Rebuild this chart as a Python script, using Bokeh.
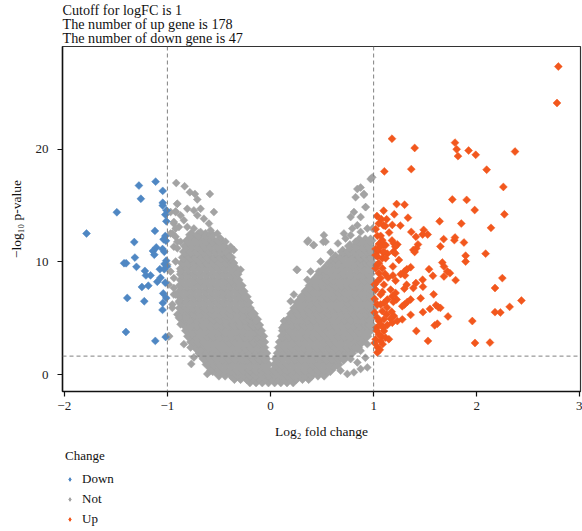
import numpy as np
from bokeh.plotting import figure
from bokeh.layouts import column
from bokeh.models import Span, Legend, LegendItem, FixedTicker
from bokeh.embed import file_html
from bokeh.resources import INLINE

# ---------------- data ----------------
logfc_cutoff = 1
p_cutoff_line = 1.64
up_count = 178
down_count = 47

x_ticks = [-2, -1, 0, 1, 2, 3]
x_tick_labels = ["\u22122", "\u22121", "0", "1", "2", "3"]
y_ticks = [0, 10, 20]
legend_labels = ["Down", "Not", "Up"]

down_x = [-1.276, -1.114, -1.045, -1.257, -1.045, -1.045, -1.008, -1.02, -1.49, -1.784,
          -1.121, -1.037, -1.014, -1.321, -1.108, -1.047, -1.03, -1.14, -1.315, -1.127,
          -1.011, -1.42, -1.40, -1.3, -1.027, -1.073, -1.03, -1.218, -1.208, -1.163,
          -1.066, -1.098, -1.02, -1.247, -1.185, -1.011, -1.389, -1.224, -1.044, -1.047,
          -1.402, -1.117, -1.017, -1.01, -1.02, -1.005, -1.04]
down_y = [16.77, 17.12, 16.3, 15.6, 15.24, 15.0, 14.57, 14.19, 14.4, 12.52,
          12.75, 12.0, 11.87, 11.76, 11.28, 11.14, 10.9, 10.97, 10.38, 10.64,
          10.11, 9.88, 9.88, 9.56, 9.82, 9.35, 9.35, 9.2, 8.8, 8.8,
          8.59, 8.24, 8.15, 7.77, 7.89, 6.8, 6.8, 6.51, 6.36, 5.74,
          3.78, 2.99, 3.34, 13.6, 12.3, 9.6, 7.2]

up_x = [2.791, 2.778, 1.178, 1.789, 1.805, 1.818, 1.398, 1.921, 1.99, 2.371,
        1.365, 1.104, 2.096, 2.258, 1.763, 1.902, 1.98, 2.268, 1.223, 1.3,
        1.097, 1.2, 1.333, 1.032, 1.075, 1.126, 1.094, 1.113, 1.181, 1.259,
        1.64, 1.85, 2.138, 1.365, 1.485, 1.475, 1.524, 1.41, 1.036, 1.068,
        1.679, 1.789, 1.783, 1.876, 1.178, 1.197, 1.23, 1.21, 1.051, 1.1,
        1.43, 1.414, 1.385, 1.398, 1.647, 1.019, 1.042, 1.094, 1.133, 1.191,
        1.21, 2.086, 1.892, 1.892, 1.245, 1.084, 1.051, 1.666, 1.682, 1.359,
        1.323, 1.298, 1.537, 1.187, 1.084, 1.715, 1.74, 1.682, 1.575, 1.262,
        1.304, 1.187, 1.051, 1.068, 1.213, 1.475, 1.795, 2.248, 1.41, 1.385,
        1.298, 1.32, 1.478, 2.177, 1.165, 1.213, 1.181, 1.084, 1.582, 1.456,
        1.359, 1.327, 1.3, 1.278, 1.223, 1.191, 1.133, 1.1, 1.068, 1.036,
        2.433, 2.319, 1.605, 1.628, 1.647, 1.546, 1.478, 1.359, 2.177, 2.229,
        1.175, 1.126, 1.197, 1.165, 1.278, 1.23, 1.721, 1.036, 1.051, 1.068,
        1.029, 1.133, 1.181, 1.094, 1.957, 1.618, 1.592, 1.414, 1.051, 1.075,
        1.019, 1.116, 1.148, 1.527, 1.087, 1.01, 1.983, 2.128, 1.036,
        1.084, 1.116, 1.068, 1.019, 1.1, 1.036, 1.116, 1.03, 1.019, 1.11,
        1.036, 1.1, 1.019, 1.068, 1.13, 1.01, 1.084, 1.01, 1.1, 1.03,
        1.1, 1.04, 1.068, 1.06, 1.02, 1.05, 1.15, 1.01, 1.14]
up_y = [27.33, 24.1, 20.93, 20.58, 19.99, 19.38, 20.11, 19.88, 19.5, 19.79,
        18.23, 18.03, 18.18, 16.65, 15.54, 15.5, 14.6, 14.22, 15.13, 15.07,
        14.54, 14.22, 13.92, 14.07, 13.78, 13.78, 13.25, 13.19, 13.28, 13.22,
        13.6, 13.4, 13.02, 12.66, 12.84, 12.43, 12.43, 12.23, 12.31, 12.31,
        12.02, 12.16, 11.93, 11.72, 11.9, 11.63, 11.55, 11.35, 11.58, 11.55,
        11.55, 11.2, 11.06, 10.88, 11.37, 11.14, 10.97, 10.82, 10.73, 10.9,
        10.76, 10.73, 10.55, 10.03, 10.17, 10.32, 9.88, 9.94, 9.59, 9.53,
        9.35, 9.15, 9.35, 9.59, 9.44, 9.15, 9.0, 8.71, 8.77, 8.91,
        8.8, 8.8, 9.0, 8.56, 8.33, 8.41, 8.38, 8.56, 8.12, 7.68,
        7.62, 7.97, 7.8, 7.68, 7.54, 7.24, 6.95, 7.33, 7.12, 6.77,
        6.66, 6.45, 6.22, 6.07, 6.66, 6.45, 6.66, 6.36, 6.22, 6.22,
        6.57, 6.01, 6.16, 5.98, 5.92, 5.83, 5.54, 5.3, 5.54, 5.51,
        5.57, 5.34, 5.19, 4.95, 4.9, 4.75, 5.16, 5.04, 4.75, 4.46,
        4.16, 4.4, 4.6, 4.16, 4.75, 4.51, 4.37, 3.87, 3.58, 3.37,
        3.14, 3.28, 3.14, 2.99, 2.7, 2.81, 2.81, 2.84, 1.96,
        11.93, 11.49, 11.35, 10.6, 10.9, 10.47, 10.32, 9.7, 9.44, 8.95,
        8.27, 7.98, 7.54, 7.1, 5.95, 6.7, 5.63, 5.5, 4.9, 3.9,
        3.87, 2.4, 2.99, 2.2, 12.9, 13.4, 12.6, 8.0, 8.6]

# dense core of the "Not" cloud, read row by row: (y, x values)
not_core_rows = [
    (-0.6, [-0.2, -0.14, -0.08, -0.02, 0.04, 0.1, 0.16, 0.22]),
    (-0.3, [-0.35, -0.29, -0.23, -0.17, -0.11, -0.05, 0.01, 0.07, 0.13, 0.19, 0.25, 0.31, 0.37]),
    (0.0, [-0.5, -0.44, -0.38, -0.32, -0.26, -0.2, -0.14, -0.08, -0.02, 0.04, 0.1, 0.16, 0.22,
           0.28, 0.34, 0.4, 0.46, 0.52]),
    (0.4, [-0.56, -0.5, -0.44, -0.38, -0.32, -0.26, -0.2, -0.14, -0.08, -0.03,
           0.04, 0.1, 0.16, 0.22, 0.28, 0.34, 0.4, 0.46, 0.52, 0.58]),
    (0.9, [-0.61, -0.55, -0.49, -0.43, -0.37, -0.31, -0.25, -0.19, -0.13, -0.07, -0.03,
           0.05, 0.11, 0.17, 0.23, 0.29, 0.35, 0.41, 0.47, 0.53, 0.59, 0.65]),
    (1.4, [-0.64, -0.58, -0.52, -0.46, -0.4, -0.34, -0.28, -0.22, -0.16, -0.1, -0.05,
           0.06, 0.12, 0.18, 0.24, 0.3, 0.36, 0.42, 0.48, 0.54, 0.6, 0.66, 0.71]),
    (1.9, [-0.68, -0.62, -0.56, -0.5, -0.44, -0.38, -0.32, -0.26, -0.2, -0.14, -0.08, -0.05,
           0.08, 0.14, 0.2, 0.26, 0.32, 0.38, 0.44, 0.5, 0.56, 0.62, 0.68, 0.74, 0.78]),
    (2.4, [-0.72, -0.66, -0.6, -0.54, -0.48, -0.42, -0.36, -0.3, -0.24, -0.18, -0.12, -0.07,
           0.09, 0.15, 0.21, 0.27, 0.33, 0.39, 0.45, 0.51, 0.57, 0.63, 0.69, 0.75, 0.81, 0.84]),
    (2.9, [-0.76, -0.7, -0.64, -0.58, -0.52, -0.46, -0.4, -0.34, -0.28, -0.22, -0.16, -0.1, -0.07,
           0.1, 0.16, 0.22, 0.28, 0.34, 0.4, 0.46, 0.52, 0.58, 0.64, 0.7, 0.76, 0.82, 0.88]),
    (3.4, [-0.79, -0.73, -0.67, -0.61, -0.55, -0.49, -0.43, -0.37, -0.31, -0.25, -0.19, -0.13, -0.08,
           0.12, 0.18, 0.24, 0.3, 0.36, 0.42, 0.48, 0.54, 0.6, 0.66, 0.72, 0.78, 0.84, 0.9, 0.93]),
    (3.9, [-0.81, -0.75, -0.69, -0.63, -0.57, -0.51, -0.45, -0.39, -0.33, -0.27, -0.21, -0.15, -0.1,
           0.13, 0.19, 0.25, 0.31, 0.37, 0.43, 0.49, 0.55, 0.61, 0.67, 0.73, 0.79, 0.85, 0.91, 0.96]),
    (4.4, [-0.83, -0.77, -0.71, -0.65, -0.59, -0.53, -0.47, -0.41, -0.35, -0.29, -0.23, -0.17, -0.12,
           0.15, 0.21, 0.27, 0.33, 0.39, 0.45, 0.51, 0.57, 0.63, 0.69, 0.75, 0.81, 0.87, 0.93, 0.97]),
    (4.9, [-0.85, -0.79, -0.73, -0.67, -0.61, -0.55, -0.49, -0.43, -0.37, -0.31, -0.25, -0.19, -0.14,
           0.18, 0.24, 0.3, 0.36, 0.42, 0.48, 0.54, 0.6, 0.66, 0.72, 0.78, 0.84, 0.9, 0.96]),
    (5.4, [-0.86, -0.8, -0.74, -0.68, -0.62, -0.56, -0.5, -0.44, -0.38, -0.32, -0.26, -0.2, -0.17,
           0.21, 0.27, 0.33, 0.39, 0.45, 0.51, 0.57, 0.63, 0.69, 0.75, 0.81, 0.87, 0.93, 0.98]),
    (5.9, [-0.87, -0.81, -0.75, -0.69, -0.63, -0.57, -0.51, -0.45, -0.39, -0.33, -0.27, -0.21,
           0.24, 0.3, 0.36, 0.42, 0.48, 0.54, 0.6, 0.66, 0.72, 0.78, 0.84, 0.9, 0.96, 0.99]),
    (6.4, [-0.87, -0.81, -0.75, -0.69, -0.63, -0.57, -0.51, -0.45, -0.39, -0.33, -0.27, -0.22,
           0.27, 0.33, 0.39, 0.45, 0.51, 0.57, 0.63, 0.69, 0.75, 0.81, 0.87, 0.93, 0.98]),
    (6.9, [-0.87, -0.81, -0.75, -0.69, -0.63, -0.57, -0.51, -0.45, -0.39, -0.33, -0.28, -0.24,
           0.31, 0.37, 0.43, 0.49, 0.55, 0.61, 0.67, 0.73, 0.79, 0.85, 0.91, 0.97]),
    (7.4, [-0.87, -0.81, -0.75, -0.69, -0.63, -0.57, -0.51, -0.45, -0.39, -0.33, -0.27,
           0.35, 0.41, 0.47, 0.53, 0.59, 0.65, 0.71, 0.77, 0.83, 0.89, 0.95, 0.99]),
    (7.9, [-0.87, -0.81, -0.75, -0.69, -0.63, -0.57, -0.51, -0.45, -0.39, -0.33, -0.29,
           0.39, 0.45, 0.51, 0.57, 0.63, 0.69, 0.75, 0.81, 0.87, 0.93, 0.98]),
    (8.4, [-0.86, -0.8, -0.74, -0.68, -0.62, -0.56, -0.5, -0.44, -0.38, -0.32,
           0.43, 0.49, 0.55, 0.61, 0.67, 0.73, 0.79, 0.85, 0.91, 0.97]),
    (8.9, [-0.86, -0.8, -0.74, -0.68, -0.62, -0.56, -0.5, -0.44, -0.38, -0.33,
           0.48, 0.54, 0.6, 0.66, 0.72, 0.78, 0.84, 0.9, 0.96]),
    (9.4, [-0.86, -0.8, -0.74, -0.68, -0.62, -0.56, -0.5, -0.44, -0.38, -0.34,
           0.53, 0.59, 0.65, 0.71, 0.77, 0.83, 0.89, 0.95, 0.98]),
    (9.9, [-0.85, -0.79, -0.73, -0.67, -0.61, -0.55, -0.49, -0.43, -0.37,
           0.58, 0.64, 0.7, 0.76, 0.82, 0.88, 0.94, 0.98]),
    (10.4, [-0.84, -0.78, -0.72, -0.66, -0.6, -0.54, -0.48, -0.42, -0.39,
            0.63, 0.69, 0.75, 0.81, 0.87, 0.93, 0.98]),
    (10.9, [-0.83, -0.77, -0.71, -0.65, -0.59, -0.53, -0.47, -0.42,
            0.7, 0.76, 0.82, 0.88, 0.94, 0.98]),
    (11.4, [-0.82, -0.76, -0.7, -0.64, -0.58, -0.52, -0.46, 0.77, 0.83, 0.89, 0.95]),
    (11.9, [-0.8, -0.74, -0.68, -0.62, -0.56, -0.5, 0.86, 0.92, 0.97]),
    (12.4, [-0.77, -0.7, -0.63, -0.57]),
]

# scattered "Not" points around the core
not_fringe_x = [-0.914, -0.833, -0.782, -0.733, -0.71, -0.588, -0.904, -0.969, -0.92, -0.807,
                -0.743, -0.678, -0.549, -0.872, -0.84, -0.71, -0.646, -0.597, -0.937, -0.888,
                -0.807, -0.743, -0.678, -0.581, -0.516, -0.484, -0.436, -0.969, -0.92, -0.872,
                -0.937, -0.387, -0.355, -0.403, -0.29, -0.322, -1.0, -0.969, -0.937, -0.985,
                -0.937, -0.888, -0.952, -0.904, -0.84, -0.872, -0.775, -0.759, -0.84, -0.775,
                -0.743, -0.678, -0.768, -0.581, -0.613, -0.985,
                -0.904, -0.92, -0.937, -0.92, -0.952, -0.904, -0.904, -0.92, -0.872, -0.937,
                -0.92, -0.952, -0.888, -0.985,
                0.366, 0.415, 0.518, 0.512, 0.253, 0.583, 0.654, 0.728, 0.777, 0.825,
                0.842, 0.906, 0.971, 0.874, 0.922, 0.777, 0.842, 0.712, 0.939, 0.99,
                0.793, 0.874, 0.486, 0.469, 0.389, 0.357, 0.227, 0.195, 0.13, 0.114,
                0.615, 0.68, 0.745, 0.809, 0.874, 0.939, 0.842,
                0.987, 0.874, 0.906, 0.825, 0.809, 0.922, 0.534, 0.357, 0.421, 0.26,
                0.809, 0.874, 0.939, 0.777, 0.92]
not_fringe_y = [17.0, 16.71, 16.18, 16.03, 15.54, 16.03, 15.15, 14.42, 14.48, 14.71,
                14.57, 14.71, 14.42, 14.13, 13.69, 14.13, 13.83, 13.4, 13.4, 13.1,
                13.1, 12.96, 12.66, 12.81, 12.52, 12.08, 11.78, 12.52, 12.23, 11.78,
                11.35, 11.35, 11.06, 10.47, 9.3, 9.0, 9.74, 9.15, 8.56, 7.98,
                7.1, 6.51, 5.92, 5.34, 5.04, 4.46, 4.75, 3.58, 2.7, 2.4,
                1.52, 2.11, 0.94, 0.35, 0.06, 3.43,
                15.15, 14.42, 13.54, 12.96, 12.52, 11.78, 11.2, 10.03, 9.15, 7.68,
                7.1, 6.22, 5.04, 3.37,
                11.9, 11.49, 12.37, 11.78, 9.3, 10.85, 11.64, 12.08, 12.37, 11.78,
                16.47, 15.95, 17.35, 13.98, 14.86, 13.98, 13.25, 12.52, 12.96, 12.96,
                12.96, 12.66, 10.03, 9.15, 9.15, 8.41, 7.1, 6.51, 4.75, 4.16,
                0.64, 0.35, 0.06, 0.2, 0.5, 0.64, 1.08,
                17.5, 16.6, 16.03, 15.74, 14.42, 14.86, 11.78, 11.78, 11.49, 9.3,
                2.4, 2.11, 2.7, 1.38, 1.5]

title_lines = ["Cutoff for logFC is %g" % logfc_cutoff,
               "The number of up gene is %d" % up_count,
               "The number of down gene is %d" % down_count]

# ---------------- build ----------------
core_x, core_y = [], []
for yv, xs in not_core_rows:
    core_x += xs
    core_y += [yv] * len(xs)

FONT = "Liberation Serif"
C_DOWN = "#4F87C3"
C_NOT = "#A3A3A3"
C_UP = "#F2571D"
MSIZE = 5.6
CORE_SIZE = 8.0
ANG = np.pi / 4

p = figure(width=582, height=445, x_range=(-2.017, 3.006), y_range=(-1.5, 29.11),
           output_backend="svg", toolbar_location=None,
           min_border_left=62, min_border_right=2, min_border_top=43, min_border_bottom=54)

p.title.text = "\n".join(title_lines)
p.title.text_font = FONT
p.title.text_font_size = "14.2px"
p.title.text_font_style = "normal"
p.title.text_color = "#111111"
p.title.text_line_height = 0.88
p.title.align = "left"
p.title.standoff = 0

p.scatter(core_x, core_y, marker="square", size=CORE_SIZE, angle=ANG,
          fill_color=C_NOT, line_color=C_NOT, line_width=0.5)
p.scatter(not_fringe_x, not_fringe_y, marker="square", size=MSIZE, angle=ANG,
          fill_color=C_NOT, line_color=C_NOT, line_width=0.5)
p.scatter(down_x, down_y, marker="square", size=MSIZE, angle=ANG,
          fill_color=C_DOWN, line_color=C_DOWN, line_width=0.5)
p.scatter(up_x, up_y, marker="square", size=MSIZE, angle=ANG,
          fill_color=C_UP, line_color=C_UP, line_width=0.5)

for loc in (-logfc_cutoff, logfc_cutoff):
    p.add_layout(Span(location=loc, dimension="height", line_color="#808080",
                      line_dash="4 3", line_width=1))
p.add_layout(Span(location=p_cutoff_line, dimension="width", line_color="#808080",
                  line_dash="4 3", line_width=1))

p.xgrid.visible = False
p.ygrid.visible = False
p.outline_line_color = "#333333"
p.outline_line_width = 1.2
p.background_fill_color = "white"

for ax in (p.xaxis[0], p.yaxis[0]):
    ax.axis_line_width = 1.5
    ax.axis_line_color = "#111111"
    ax.major_tick_line_color = "#111111"
    ax.major_tick_line_width = 1.2
    ax.major_tick_in = 0
    ax.major_tick_out = 5
    ax.minor_tick_line_color = None
    ax.major_label_text_font = FONT
    ax.major_label_text_font_size = "13px"
    ax.major_label_text_color = "#222222"
    ax.axis_label_text_font = FONT
    ax.axis_label_text_font_size = "13.5px"
    ax.axis_label_text_font_style = "normal"
    ax.axis_label_text_color = "#111111"

p.xaxis.ticker = FixedTicker(ticks=x_ticks)
p.xaxis.major_label_overrides = dict(zip(x_ticks, x_tick_labels))
p.xaxis.major_label_standoff = 5
p.xaxis.axis_label = "Log\u2082 fold change"
p.xaxis.axis_label_standoff = 11

p.yaxis.ticker = FixedTicker(ticks=y_ticks)
p.yaxis.major_label_standoff = 9
p.yaxis.axis_label = "\u2212log\u2081\u2080 p-value"
p.yaxis.axis_label_standoff = 9

# ---------------- legend strip below the plot ----------------
lf = figure(width=582, height=86, x_range=(0, 1), y_range=(0, 1),
            output_backend="svg", toolbar_location=None,
            x_axis_location=None, y_axis_location=None,
            min_border_left=59, min_border_right=0, min_border_top=0, min_border_bottom=0)
lf.grid.visible = False
lf.outline_line_color = None
lg_renderers = []
for col in (C_DOWN, C_NOT, C_UP):
    lg_renderers.append(lf.scatter([-10], [-10], marker="diamond", size=7,
                                   fill_color=col, line_color=col))

legend = Legend(items=[LegendItem(label=lab, renderers=[r])
                       for lab, r in zip(legend_labels, lg_renderers)],
                title="Change", orientation="vertical", location="top_left")
legend.title_text_font = FONT
legend.title_text_font_size = "13px"
legend.title_text_font_style = "normal"
legend.title_text_color = "#111111"
legend.title_standoff = 7
legend.label_text_font = FONT
legend.label_text_font_size = "13px"
legend.label_text_color = "#111111"
legend.glyph_width = 9
legend.glyph_height = 14
legend.label_height = 14
legend.label_standoff = 8
legend.spacing = 4
legend.padding = 0
legend.margin = 3
legend.border_line_color = None
legend.background_fill_alpha = 0
lf.add_layout(legend, "center")

layout = column(p, lf, spacing=0)
open("out.html", "w").write(file_html(layout, INLINE))
